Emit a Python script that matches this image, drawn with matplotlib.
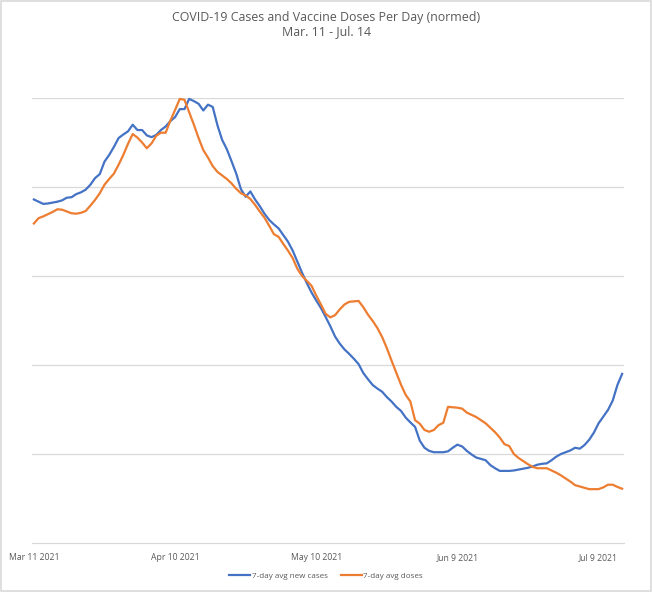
import matplotlib
matplotlib.use("Agg")
import matplotlib.pyplot as plt
from matplotlib.patches import Rectangle

# 7-day averages, normed to their peak, one value per day from Mar 11 to Jul 14 2021
cases = [
    0.772, 0.767, 0.762, 0.763, 0.765, 0.767, 0.770, 0.776, 0.777, 0.784,
    0.788, 0.794, 0.805, 0.820, 0.829, 0.857, 0.872, 0.890, 0.910, 0.918,
    0.925, 0.940, 0.928, 0.928, 0.916, 0.912, 0.917, 0.928, 0.936, 0.948,
    0.957, 0.975, 0.975, 0.998, 0.993, 0.987, 0.972, 0.985, 0.980, 0.939,
    0.906, 0.885, 0.858, 0.830, 0.795, 0.778, 0.790, 0.772, 0.757, 0.740,
    0.726, 0.716, 0.707, 0.692, 0.677, 0.657, 0.632, 0.607, 0.584, 0.563,
    0.545, 0.528, 0.508, 0.487, 0.464, 0.448, 0.435, 0.425, 0.414, 0.402,
    0.382, 0.368, 0.355, 0.347, 0.340, 0.328, 0.318, 0.306, 0.297, 0.282,
    0.271, 0.261, 0.230, 0.214, 0.207, 0.204, 0.204, 0.204, 0.206, 0.214,
    0.221, 0.217, 0.207, 0.199, 0.192, 0.189, 0.186, 0.175, 0.168, 0.162,
    0.162, 0.162, 0.163, 0.165, 0.167, 0.169, 0.172, 0.176, 0.178, 0.179,
    0.186, 0.194, 0.200, 0.204, 0.208, 0.214, 0.212, 0.220, 0.232, 0.248,
    0.269, 0.284, 0.299, 0.320, 0.355, 0.380,
]
doses = [
    0.718, 0.730, 0.734, 0.739, 0.744, 0.750, 0.749, 0.745, 0.741, 0.740,
    0.742, 0.746, 0.758, 0.771, 0.786, 0.805, 0.818, 0.830, 0.850, 0.872,
    0.897, 0.919, 0.911, 0.900, 0.887, 0.898, 0.915, 0.922, 0.922, 0.949,
    0.973, 0.998, 0.996, 0.968, 0.940, 0.910, 0.883, 0.866, 0.847, 0.834,
    0.826, 0.818, 0.808, 0.796, 0.786, 0.781, 0.773, 0.760, 0.745, 0.731,
    0.713, 0.694, 0.688, 0.672, 0.657, 0.640, 0.616, 0.600, 0.589, 0.578,
    0.556, 0.536, 0.515, 0.507, 0.512, 0.525, 0.536, 0.542, 0.543, 0.544,
    0.530, 0.513, 0.499, 0.483, 0.463, 0.438, 0.410, 0.383, 0.356, 0.333,
    0.318, 0.276, 0.268, 0.254, 0.250, 0.254, 0.265, 0.270, 0.306, 0.305,
    0.304, 0.302, 0.293, 0.288, 0.283, 0.276, 0.269, 0.259, 0.249, 0.237,
    0.222, 0.218, 0.200, 0.191, 0.184, 0.177, 0.171, 0.168, 0.168, 0.168,
    0.163, 0.158, 0.152, 0.145, 0.138, 0.130, 0.127, 0.124, 0.121, 0.121,
    0.121, 0.125, 0.131, 0.131, 0.126, 0.122,
]
tick_days = [0, 30, 60, 90, 120]
tick_labels = ["Mar 11 2021", "Apr 10 2021", "May 10 2021", "Jun 9 2021", "Jul 9 2021"]

plt.rcParams['font.family'] = ['Open Sans', 'DejaVu Sans']
gris_texte = "#595959"
gris_grille = "#d9d9d9"

fig = plt.figure(figsize=(6.52, 5.92), dpi=100)
ax = fig.add_axes([32 / 652, 1 - 543 / 592, 592 / 652, 445 / 592])

jours = list(range(len(cases)))
ax.plot(jours, cases, color="#4472C4", lw=1.6, label="7-day avg new cases", clip_on=False)
ax.plot(jours, doses, color="#ED7D31", lw=1.6, label="7-day avg doses", clip_on=False)

ax.set_xlim(-0.4, 125.4)
ax.set_ylim(0, 1.0)
ax.set_yticks([0.2, 0.4, 0.6, 0.8, 1.0])
ax.set_yticklabels([])
ax.grid(axis="y", color=gris_grille, lw=0.9)
ax.set_axisbelow(True)
ax.tick_params(axis="y", length=0)
ax.set_xticks(tick_days)
ax.set_xticklabels(tick_labels, fontsize=6.2, color=gris_texte)
ax.tick_params(axis="x", length=0, pad=7)
for cote in ["top", "right", "left"]:
    ax.spines[cote].set_visible(False)
ax.spines["bottom"].set_color(gris_grille)
ax.spines["bottom"].set_linewidth(0.9)

fig.text(0.5, 1 - 17 / 592, "COVID-19 Cases and Vaccine Doses Per Day (normed)",
         ha="center", va="center", fontsize=8.9, color=gris_texte)
fig.text(0.5, 1 - 32 / 592, "Mar. 11 - Jul. 14",
         ha="center", va="center", fontsize=8.9, color=gris_texte)

fig.legend(loc="center", bbox_to_anchor=(0.5, 1 - 576 / 592), ncol=2, frameon=False,
           fontsize=5.8, labelcolor=gris_texte, handlelength=2.6, columnspacing=1.6,
           handletextpad=0.2)

fig.patches.append(Rectangle((0.001, 0.001), 0.997, 0.997, transform=fig.transFigure,
                             fill=False, edgecolor=gris_grille, lw=1.2))

fig.savefig("out.png", dpi=100)
